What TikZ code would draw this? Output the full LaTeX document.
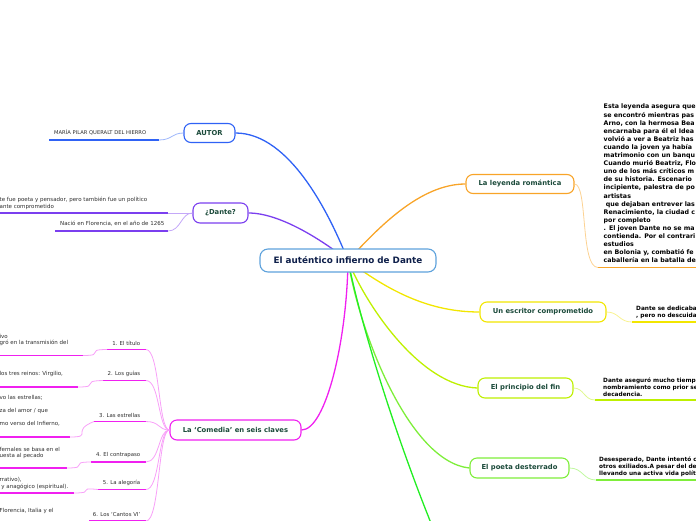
\documentclass[tikz,border=0pt]{standalone}
\usepackage{fontspec}
\setmainfont{DejaVu Sans}
\usetikzlibrary{backgrounds}
\definecolor{cblue}{HTML}{2F62F5}
\definecolor{cbluel}{HTML}{9DB6FB}
\definecolor{cpur}{HTML}{7B3FEF}
\definecolor{cpurl}{HTML}{C4A8F8}
\definecolor{corg}{HTML}{F8A428}
\definecolor{corgl}{HTML}{FCD292}
\definecolor{cyel}{HTML}{F2E600}
\definecolor{cyell}{HTML}{F8F290}
\definecolor{cyg}{HTML}{BEF000}
\definecolor{cygl}{HTML}{E0F890}
\definecolor{clg}{HTML}{7EEE3A}
\definecolor{clgl}{HTML}{C0F8A0}
\definecolor{cgr}{HTML}{22EE22}
\definecolor{cmag}{HTML}{F020F0}
\definecolor{cmagl}{HTML}{F8A0F8}
\definecolor{ccen}{HTML}{5EA2DC}
\definecolor{ctopic}{HTML}{1B4A3A}
\definecolor{ccentxt}{HTML}{0E1F4A}
\definecolor{cleaf}{HTML}{2E2E2E}
\begin{document}
\begin{tikzpicture}[x=1pt,y=-1pt,
  topic/.style={draw, fill=white, rounded corners=7pt, line width=1.1pt,
    minimum height=19pt, inner sep=0pt, text=ctopic,
    font=\fontsize{6.8}{7.5}\selectfont\bfseries},
  leaf/.style={anchor=west, inner sep=0pt, text=cleaf, font=\fontsize{5.5}{6.5}\selectfont},
  rleaf/.style={anchor=east, inner sep=0pt, text=cleaf, font=\fontsize{5.4}{6.5}\selectfont},
  bleaf/.style={anchor=north west, inner sep=0pt, text=black, align=left,
    font=\fontsize{5.8}{6.7}\selectfont\bfseries},
  main/.style={line width=1.3pt},
  under/.style={line width=1.8pt},
  twig/.style={line width=0.8pt}]
\useasboundingbox (0,0) rectangle (696,520);

% central and topics
\node[draw=ccen, fill=white, rounded corners=8pt, line width=1.1pt, minimum width=176pt,
  minimum height=23pt, inner sep=0pt, text=ccentxt, font=\fontsize{8.8}{10}\selectfont\bfseries]
  (central) at (348,260.5) {El auténtico infierno de Dante};
\node[topic, draw=cblue, minimum width=51pt] (autor) at (209.5,133) {AUTOR};
\node[topic, draw=cpur, minimum width=55pt, minimum height=20pt] (dante) at (220.5,213) {¿Dante?};
\node[topic, draw=corg, minimum width=108pt] (leyenda) at (520,184) {La leyenda romántica};
\node[topic, draw=cyel, minimum width=126pt, minimum height=20pt] (escritor) at (543,312) {Un escritor comprometido};
\node[topic, draw=cyg, minimum width=95pt, minimum height=20pt] (principio) at (525.5,388) {El principio del fin};
\node[topic, draw=clg, minimum width=99pt, minimum height=20pt] (desterrado) at (519.5,468) {El poeta desterrado};
\node[topic, draw=cmag, minimum width=131pt, minimum height=20pt] (comedia) at (235.5,430) {La ‘Comedia’ en seis claves};
\coordinate (offgreen) at (440,545);

\begin{pgfonlayer}{background}
\draw[main, cblue] (central.center) .. controls (330,215) and (290,133) .. (autor.east);
\draw[main, cpur] (central.center) .. controls (322,240) and (280,213) .. (dante.east);
\draw[main, corg] (central.center) .. controls (378,228) and (420,184) .. (leyenda.west);
\draw[main, cyel] (central.center) .. controls (390,292) and (430,312) .. (escritor.west);
\draw[main, cyg] (central.center) .. controls (366,305) and (420,386) .. (principio.west);
\draw[main, clg] (central.center) .. controls (360,335) and (410,462) .. (desterrado.west);
\draw[main, cgr] (central.center) .. controls (362,330) and (400,450) .. (offgreen);
\draw[main, cmag] (central.center) .. controls (347,340) and (326,430) .. (comedia.east);
\end{pgfonlayer}

% AUTOR
\coordinate (a1s) at (49,140); \coordinate (a1e) at (159,140);
\draw[under, cblue] (a1s) -- (a1e);
\draw[twig, cbluel] (a1e) .. controls (172,140) and (172,133) .. (autor.west);
\node[leaf, font=\fontsize{5.2}{6}\selectfont] (a1t) at (54,132.5) {MARÍA PILAR QUERALT DEL HIERRO};

% ¿Dante?
\coordinate (d1s) at (-2,213); \coordinate (d1e) at (168,213);
\draw[under, cpur] (d1s) -- (d1e);
\draw[twig, cpurl] (d1e) -- (dante.west);
\node[leaf] (d1t) at (-0.5,200) {te fue poeta y pensador, pero también fue un político};
\node[leaf] (d1u) at (-0.5,206.5) {ante comprometido};
\coordinate (d2s) at (55,231); \coordinate (d2e) at (168,231);
\draw[under, cpur] (d2s) -- (d2e);
\draw[twig, cpurl] (d2e) .. controls (181,231) and (181,213) .. (dante.west);
\node[leaf] (d2t) at (60,224) {Nació en Florencia, en el año de 1265};

% Leyenda
\coordinate (l1s) at (598,267.5); \coordinate (l1e) at (700,267.5);
\draw[under, corg] (l1s) -- (l1e);
\draw[twig, corgl] (leyenda.east) .. controls (588,184) and (580,267.5) .. (l1s);
\node[bleaf, font=\fontsize{6.3}{8.1}\selectfont\bfseries] (l1t) at (603.5,104) {Esta leyenda asegura que\\
se encontró mientras pas\\
Arno, con la hermosa Bea\\
encarnaba para él el Idea\\
volvió a ver a Beatriz has\\
cuando la joven ya había\\
matrimonio con un banqu\\
Cuando murió Beatriz, Flo\\
uno de los más críticos m\\
de su historia. Escenario\\
incipiente, palestra de po\\
artistas\\
\ que dejaban entrever las\\
Renacimiento, la ciudad c\\
por completo\\
. El joven Dante no se ma\\
contienda. Por el contrari\\
estudios\\
en Bolonia y,  combatió fe\\
caballería en la batalla de};

% Escritor
\coordinate (e1s) at (632,322); \coordinate (e1e) at (700,322);
\draw[under, cyel] (e1s) -- (e1e);
\draw[twig, cyell] (escritor.east) .. controls (619,312) and (619,322) .. (e1s);
\node[bleaf] (e1t) at (636,306) {Dante se dedicaba a\\, pero no descuidab};

% Principio
\coordinate (p1s) at (595,400); \coordinate (p1e) at (700,400);
\draw[under, cyg] (p1s) -- (p1e);
\draw[twig, cygl] (principio.east) .. controls (584,388) and (584,400) .. (p1s);
\node[bleaf] (p1t) at (603,378) {Dante aseguró mucho tiempo\\nombramiento como prior se i\\decadencia.};

% Desterrado
\coordinate (t1s) at (596,480); \coordinate (t1e) at (700,480);
\draw[under, clg] (t1s) -- (t1e);
\draw[twig, clgl] (desterrado.east) .. controls (583,468) and (583,480) .. (t1s);
\node[bleaf] (t1t) at (599,457) {Desesperado, Dante intentó co\\otros exiliados.A pesar del dest\\llevando una activa vida polític};

% Comedia children
\foreach \n/\xs/\yy/\lab in {1/107/349.5/{1. El título},2/103/380.5/{2. Los guías},3/94/421.5/{3. Las estrellas},4/91/462/{4. El contrapaso},5/98/489.5/{5. La alegoría},6/89/521/{6. Los ‘Cantos VI’}}{
  \coordinate (c\n s) at (\xs,\yy); \coordinate (c\n e) at (146,\yy);
  \draw[under, cmag] (c\n s) -- (c\n e);
  \draw[twig, cmagl] (c\n e) .. controls (160,\yy) and (158,430) .. (comedia.west);
  \node[rleaf] (c\n t) at (140.5,\yy-6.5) {\lab};
}
% grandchildren on the left
\foreach \n/\xe/\yy in {1/83/355.5,2/78/387,3/70/437,4/67/468,5/74/493}{
  \coordinate (g\n s) at (-2,\yy); \coordinate (g\n e) at (\xe,\yy);
  \draw[under, cmag] (g\n s) -- (g\n e);
  \draw[twig, cmagl] (g\n e) .. controls ({(\xe+24)},\yy) and (\xe,{\yy-6}) .. (c\n s);
}
\node[leaf] (g1a) at (-0.5,336) {ivo};
\node[leaf] (g1b) at (-0.5,343) {gró en la transmisión del};
\node[leaf] (g2a) at (-0.5,374) {los tres reinos:  Virgilio,};
\node[leaf] (g3a) at (-0.5,398) {vo las estrellas;};
\node[leaf] (g3b) at (-0.5,411) {za del amor / que};
\node[leaf] (g3c) at (-0.5,424) {mo verso del Infierno,};
\node[leaf] (g4a) at (-0.5,449) {fernales se basa en el};
\node[leaf] (g4b) at (-0.5,455.5) {uesta al pecado};
\node[leaf] (g5a) at (-0.5,480) {rrativo),};
\node[leaf] (g5b) at (-0.5,486.5) {\ y anagógico (espiritual).};
\node[leaf] (g6a) at (-0.5,511) {Florencia, Italia y el};
\end{tikzpicture}
\end{document}
